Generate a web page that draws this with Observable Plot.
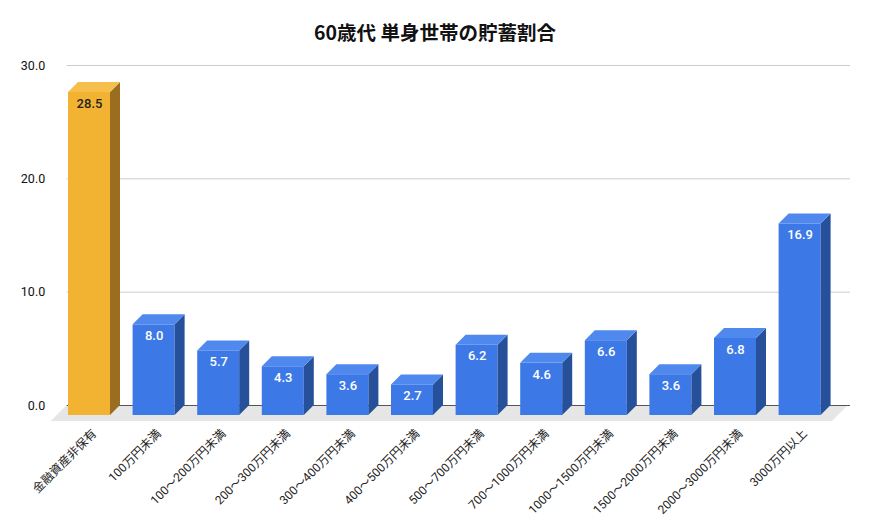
<!DOCTYPE html>
<html>
<head>
<meta charset="utf-8">
<script src="https://cdn.jsdelivr.net/npm/d3@7"></script>
<script src="https://cdn.jsdelivr.net/npm/@observablehq/plot@0.6"></script>
<style>
  html, body { margin: 0; padding: 0; background: #fff; }
  #wrap { width: 870px; height: 530px; position: relative; overflow: hidden; }
  #title { height: 50px; box-sizing: border-box; padding-top: 20px; line-height: 24px; text-align: center;
           font-family: "Noto Sans CJK JP", sans-serif; font-weight: 700; font-size: 19.5px; color: #111; }
  svg { display: block; }
</style>
</head>
<body>
<div id="wrap">
  <div id="title">60歳代 単身世帯の貯蓄割合</div>
  <div id="chart"></div>
</div>
<script>
// ---- data ----
const categories = [
  "金融資産非保有", "100万円未満", "100～200万円未満", "200～300万円未満",
  "300～400万円未満", "400～500万円未満", "500～700万円未満", "700～1000万円未満",
  "1000～1500万円未満", "1500～2000万円未満", "2000～3000万円未満", "3000万円以上"
];
const values = [28.5, 8.0, 5.7, 4.3, 3.6, 2.7, 6.2, 4.6, 6.6, 3.6, 6.8, 16.9];
const yTicks = [0, 10, 20, 30];

// ---- geometry / style ----
const n = categories.length;
const xRange = [89, 799.6];
const yRange = [355, 15];
const pxX = (xRange[1] - xRange[0]) / (n - 1);
const pxY = (yRange[0] - yRange[1]) / 30;
const depth = 10;                 // 3D depth in pixels
const DX = depth / pxX, DY = depth / pxY;
const W = 21 / pxX;               // half bar width in x units

const palette = {
  hi: {front: "#F3B332", top: "#F6BF4C", side: "#9B6D1F", label: "#222"},
  lo: {front: "#3C79E6", top: "#5089EE", side: "#27509A", label: "#fff"}
};
const data = categories.map((c, i) => ({i, cat: c, v: values[i], p: i === 0 ? palette.hi : palette.lo}));

const tops = data.flatMap(d => [
  {g: d.i, y: d.v, x1: d.i - W, x2: d.i + W, c: d.p.top},
  {g: d.i, y: d.v + DY, x1: d.i - W + DX, x2: d.i + W + DX, c: d.p.top}
]);
const sides = data.flatMap(d => [
  {g: d.i, x: d.i + W, y1: 0, y2: d.v, c: d.p.side},
  {g: d.i, x: d.i + W + DX, y1: DY, y2: d.v + DY, c: d.p.side}
]);
const floor = [
  {y: 0, x1: -0.5 + DX, x2: n - 0.5 + 1.6 * DX},
  {y: -1.6 * DY, x1: -0.5 - 0.6 * DX, x2: n - 0.5}
];
const gx1 = -0.5 + DX, gx2 = n - 0.5 + 1.8 * DX;

const chart = Plot.plot({
  width: 870,
  height: 480,
  marginLeft: 0, marginRight: 0, marginTop: 0, marginBottom: 0,
  x: {domain: [0, n - 1], range: xRange, axis: null},
  y: {domain: [0, 30], range: yRange, axis: null},
  color: {type: "identity"},
  style: {fontFamily: "Roboto, 'Noto Sans CJK JP', sans-serif", fontSize: "12px", background: "#fff"},
  marks: [
    Plot.areaX(floor, {y: "y", x1: "x1", x2: "x2", fill: "#e6e6e6"}),
    Plot.ruleY(yTicks.filter(t => t > 0), {y: d => d, x1: gx1, x2: gx2, stroke: "#cccccc", strokeWidth: 1}),
    Plot.ruleY([0], {y: d => d, x1: gx1, x2: gx2, stroke: "#555", strokeWidth: 1.2}),
    Plot.text(yTicks, {x: -0.5, y: d => d, text: d => d3.format(".1f")(d), textAnchor: "end", dx: -12, fill: "#111", fontSize: 12.5}),
    Plot.rect(data, {x1: d => d.i - W, x2: d => d.i + W, y1: 0, y2: "v", fill: d => d.p.front, dy: depth}),
    Plot.areaY(sides, {x: "x", y1: "y1", y2: "y2", z: "g", fill: "c", dy: depth}),
    Plot.areaX(tops, {y: "y", x1: "x1", x2: "x2", z: "g", fill: "c", dy: depth}),
    Plot.text(data, {x: "i", y: "v", text: d => d3.format(".1f")(d.v), dy: depth + 11, fill: d => d.p.label, fontSize: 13, fontWeight: 500}),
    Plot.text(data, {x: "i", y: 0, text: "cat", rotate: -45, textAnchor: "end", dx: 5, dy: 26, fill: "#222", fontSize: 12})
  ]
});
document.getElementById("chart").appendChild(chart);
</script>
</body>
</html>
